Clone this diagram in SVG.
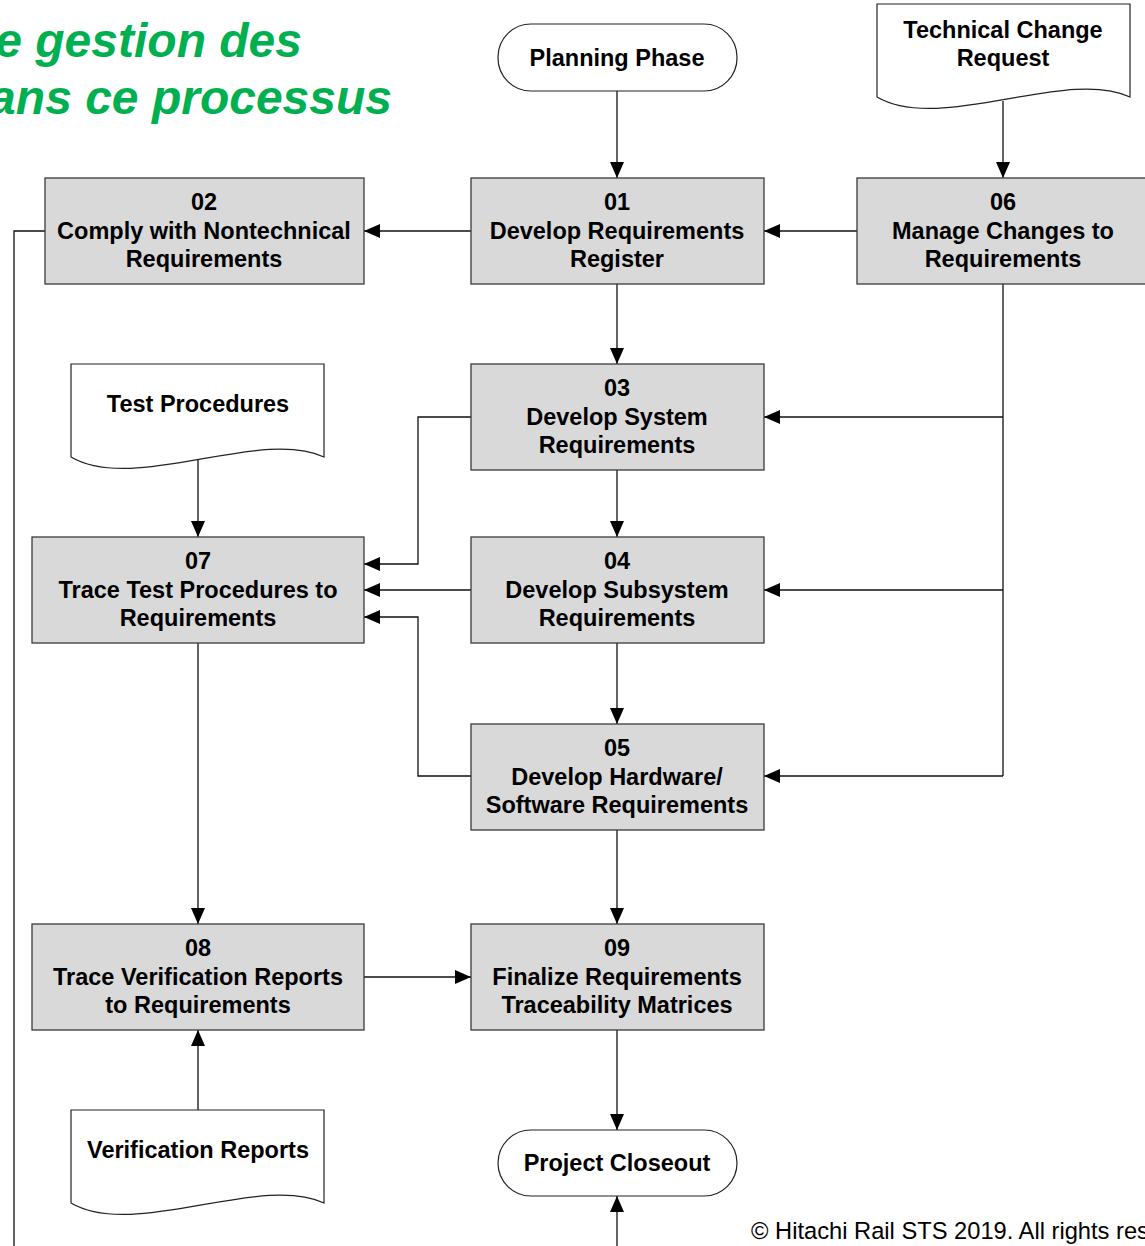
<svg xmlns="http://www.w3.org/2000/svg" width="1145" height="1246" viewBox="0 0 1145 1246">
<defs>
<style>
.box{fill:#D9D9D9;stroke:#3a3a3a;stroke-width:1.3}
.term{fill:#fff;stroke:#222;stroke-width:1.2}
.doc{fill:#fff;stroke:#222;stroke-width:1.2}
.t{font-family:"Liberation Sans",Arial,sans-serif;font-weight:bold;font-size:23.5px;fill:#000;text-anchor:middle}
.title{font-family:"Liberation Sans",Arial,sans-serif;font-weight:bold;font-style:italic;font-size:48px;fill:#00B050;text-anchor:end}
.c{fill:none;stroke:#111;stroke-width:1.3}
.copy{font-family:"Liberation Sans",Arial,sans-serif;font-size:23.7px;fill:#000}
</style>
<marker id="ah" viewBox="0 0 16 14" refX="16" refY="7" markerWidth="16" markerHeight="14" markerUnits="userSpaceOnUse" orient="auto">
<path d="M0,0 L16,7 L0,14 Z" fill="#000"/>
</marker>
</defs>
<rect width="1145" height="1246" fill="#fff"/>
<g id="title">
<text class="title" x="302" y="57">e gestion des</text>
<text class="title" x="392" y="114">ans ce processus</text>
</g>
<g id="connectors">
<path class="c" d="M617,91 V178" marker-end="url(#ah)"/>
<path class="c" d="M1003,101 V178" marker-end="url(#ah)"/>
<path class="c" d="M471,231 H364" marker-end="url(#ah)"/>
<path class="c" d="M857,231 H764" marker-end="url(#ah)"/>
<path class="c" d="M617,284 V364" marker-end="url(#ah)"/>
<path class="c" d="M1003,284 V776"/>
<path class="c" d="M1003,417 H764" marker-end="url(#ah)"/>
<path class="c" d="M1003,590 H764" marker-end="url(#ah)"/>
<path class="c" d="M1003,776 H764" marker-end="url(#ah)"/>
<path class="c" d="M617,470 V537" marker-end="url(#ah)"/>
<path class="c" d="M617,643 V724" marker-end="url(#ah)"/>
<path class="c" d="M617,830 V924" marker-end="url(#ah)"/>
<path class="c" d="M617,1030 V1130" marker-end="url(#ah)"/>
<path class="c" d="M617,1246 V1196" marker-end="url(#ah)"/>
<path class="c" d="M471,417 H418 V564 H364" marker-end="url(#ah)"/>
<path class="c" d="M471,590 H364" marker-end="url(#ah)"/>
<path class="c" d="M471,776 H418 V617 H364" marker-end="url(#ah)"/>
<path class="c" d="M198,458 V537" marker-end="url(#ah)"/>
<path class="c" d="M198,643 V924" marker-end="url(#ah)"/>
<path class="c" d="M364,977 H471" marker-end="url(#ah)"/>
<path class="c" d="M198,1110 V1030" marker-end="url(#ah)"/>
<path class="c" d="M45,231 H14 V1246"/>
</g>
<g id="planning">
<rect class="term" x="498" y="24" width="239" height="67" rx="33" ry="33"/>
<text class="t" x="617" y="65.5">Planning Phase</text>
</g>
<g id="tcr">
<path class="doc" d="M877,4 H1130 V97 C1067,67 940,134 877,97 Z"/>
<text class="t" x="1003" y="38">Technical Change</text>
<text class="t" x="1003" y="66">Request</text>
</g>
<g id="n02">
<rect class="box" x="45" y="178" width="319" height="106"/>
<text class="t" x="204" y="209.5">02</text>
<text class="t" x="204" y="238.5">Comply with Nontechnical</text>
<text class="t" x="204" y="266.5">Requirements</text>
</g>
<g id="n01">
<rect class="box" x="471" y="178" width="293" height="106"/>
<text class="t" x="617" y="209.5">01</text>
<text class="t" x="617" y="238.5">Develop Requirements</text>
<text class="t" x="617" y="266.5">Register</text>
</g>
<g id="n06">
<rect class="box" x="857" y="178" width="292" height="106"/>
<text class="t" x="1003" y="209.5">06</text>
<text class="t" x="1003" y="238.5">Manage Changes to</text>
<text class="t" x="1003" y="266.5">Requirements</text>
</g>
<g id="testproc">
<path class="doc" d="M71,364 H324 V457 C261,427 134,494 71,457 Z"/>
<text class="t" x="198" y="411.5">Test Procedures</text>
</g>
<g id="n03">
<rect class="box" x="471" y="364" width="293" height="106"/>
<text class="t" x="617" y="395.5">03</text>
<text class="t" x="617" y="424.5">Develop System</text>
<text class="t" x="617" y="452.5">Requirements</text>
</g>
<g id="n07">
<rect class="box" x="32" y="537" width="332" height="106"/>
<text class="t" x="198" y="568.5">07</text>
<text class="t" x="198" y="597.5">Trace Test Procedures to</text>
<text class="t" x="198" y="625.5">Requirements</text>
</g>
<g id="n04">
<rect class="box" x="471" y="537" width="293" height="106"/>
<text class="t" x="617" y="568.5">04</text>
<text class="t" x="617" y="597.5">Develop Subsystem</text>
<text class="t" x="617" y="625.5">Requirements</text>
</g>
<g id="n05">
<rect class="box" x="471" y="724" width="293" height="106"/>
<text class="t" x="617" y="755.5">05</text>
<text class="t" x="617" y="784.5">Develop Hardware/</text>
<text class="t" x="617" y="812.5">Software Requirements</text>
</g>
<g id="n08">
<rect class="box" x="32" y="924" width="332" height="106"/>
<text class="t" x="198" y="955.5">08</text>
<text class="t" x="198" y="984.5">Trace Verification Reports</text>
<text class="t" x="198" y="1012.5">to Requirements</text>
</g>
<g id="n09">
<rect class="box" x="471" y="924" width="293" height="106"/>
<text class="t" x="617" y="955.5">09</text>
<text class="t" x="617" y="984.5">Finalize Requirements</text>
<text class="t" x="617" y="1012.5">Traceability Matrices</text>
</g>
<g id="verif">
<path class="doc" d="M71,1110 H324 V1203 C261,1173 134,1240 71,1203 Z"/>
<text class="t" x="198" y="1157.5">Verification Reports</text>
</g>
<g id="closeout">
<rect class="term" x="498" y="1130" width="239" height="66" rx="33" ry="33"/>
<text class="t" x="617" y="1170.5">Project Closeout</text>
</g>
<text class="copy" x="751" y="1239">© Hitachi Rail STS 2019. All rights reserved.</text>
</svg>
